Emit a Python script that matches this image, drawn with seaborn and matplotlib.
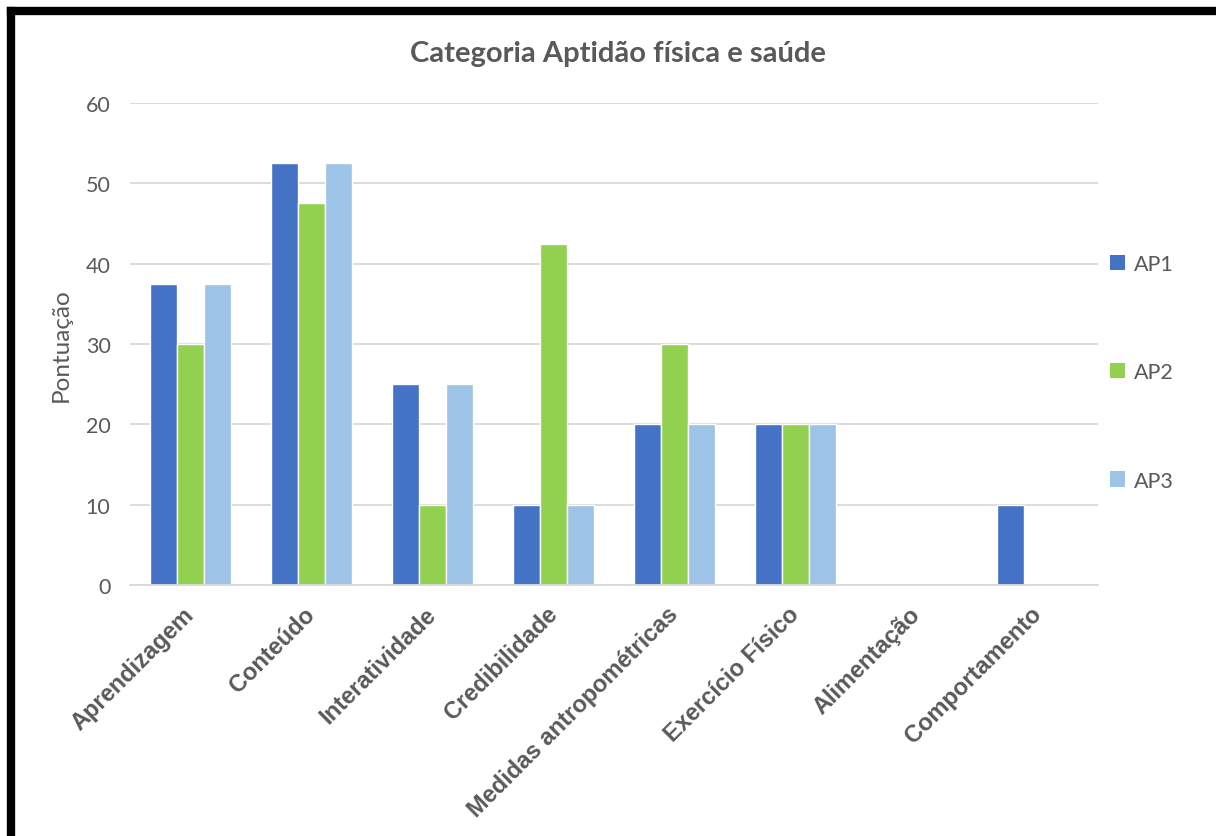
import matplotlib
matplotlib.use("Agg")
import matplotlib.pyplot as plt
import matplotlib.transforms as mtransforms
from matplotlib.lines import Line2D
from matplotlib.patches import Patch
import seaborn as sns
import pandas as pd

categories = ["Aprendizagem", "Conteúdo", "Interatividade", "Credibilidade",
              "Medidas antropométricas", "Exercício Físico", "Alimentação",
              "Comportamento"]
ap1 = [37.5, 52.5, 25, 10, 20, 20, 0, 10]
ap2 = [30, 47.5, 10, 42.5, 30, 20, 0, 0]
ap3 = [37.5, 52.5, 25, 10, 20, 20, 0, 0]
series_names = ["AP1", "AP2", "AP3"]
colors = ["#4472C4", "#92D050", "#9DC3E6"]
y_ticks = [0, 10, 20, 30, 40, 50, 60]

df = pd.DataFrame({
    "Categoria": categories * 3,
    "Série": [s for s in series_names for _ in categories],
    "Pontuação": ap1 + ap2 + ap3,
})

sns.set_theme(style="white")
plt.rcParams["font.family"] = ["Lato", "DejaVu Sans"]
text_color = "#595959"

fig = plt.figure(figsize=(12.16, 8.37), dpi=100)
ax = fig.add_axes([0.1069, 0.2999, 0.7961, 0.5758])

sns.barplot(data=df, x="Categoria", y="Pontuação", hue="Série",
            palette=colors, width=0.67, saturation=1, ax=ax,
            legend=False, errorbar=None)

ax.set_ylim(0, 60)
ax.set_yticks(y_ticks)
ax.set_yticklabels([str(v) for v in y_ticks], fontsize=15.5, color=text_color)
ax.yaxis.grid(True, color="#D9D9D9", linewidth=1.3)
ax.set_axisbelow(True)
for side in ["top", "right", "left"]:
    ax.spines[side].set_visible(False)
ax.spines["bottom"].set_color("#D9D9D9")
ax.spines["bottom"].set_linewidth(1.3)
ax.tick_params(axis="both", length=0)
ax.tick_params(axis="y", pad=14)

ax.set_xlabel("")
ax.set_xticks(range(len(categories)))
ax.set_xticklabels(categories, rotation=45, ha="right", rotation_mode="anchor",
                   fontsize=17, fontweight="bold", color=text_color,
                   family=["Liberation Sans", "DejaVu Sans"])
ax.tick_params(axis="x", pad=8)
# nudge the slanted category labels a little left and down
shift = mtransforms.ScaledTranslation(-8 / 100, -6 / 100, fig.dpi_scale_trans)
for lbl in ax.get_xticklabels():
    lbl.set_transform(lbl.get_transform() + shift)
ax.set_ylabel("Pontuação", fontsize=17.5, color=text_color, labelpad=10)

fig.text(0.508, 0.936, "Categoria Aptidão física e saúde", ha="center",
         va="center", fontsize=21, fontweight="bold", color=text_color)

handles = [Patch(facecolor=c, edgecolor="none") for c in colors]
leg = fig.legend(handles, series_names, loc="center left",
                 bbox_to_anchor=(0.897, 0.554), frameon=False, fontsize=15.5,
                 labelspacing=4.1, handlelength=0.7, handleheight=0.7,
                 handletextpad=0.4)
for t in leg.get_texts():
    t.set_color(text_color)

# Black frame along the left and top edges
fig.add_artist(Line2D([0.0091, 0.0091], [0.0, 0.9857], color="black",
                      linewidth=6, transform=fig.transFigure,
                      solid_capstyle="projecting"))
fig.add_artist(Line2D([0.0091, 1.0], [0.9857, 0.9857], color="black",
                      linewidth=6, transform=fig.transFigure,
                      solid_capstyle="projecting"))

fig.savefig("out.png", dpi=100, facecolor="white")
